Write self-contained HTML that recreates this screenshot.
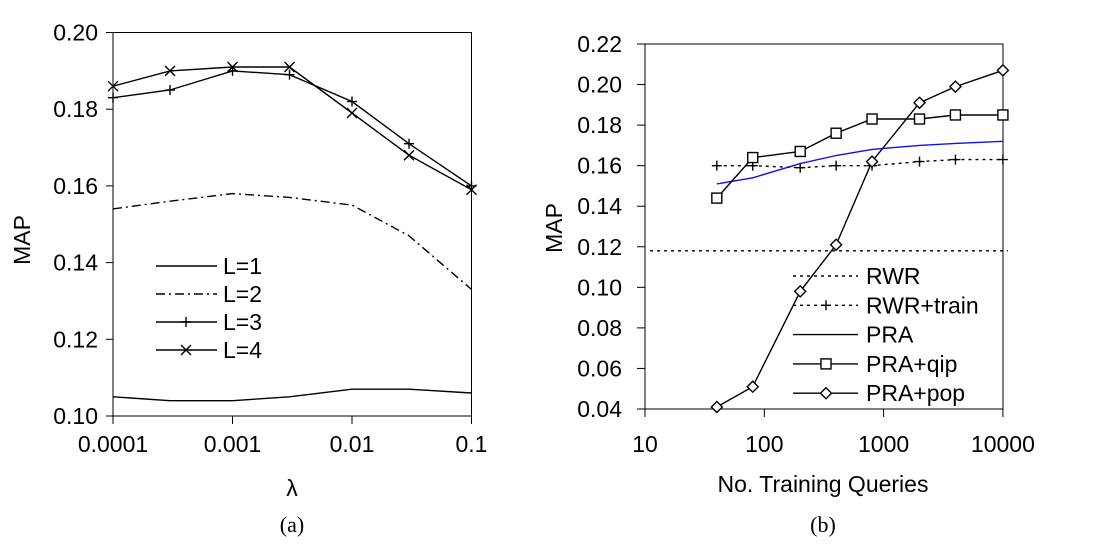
<!DOCTYPE html>
<html><head><meta charset="utf-8"><style>
html,body{margin:0;padding:0;background:#fff;}
svg{display:block;font-family:"Liberation Sans",Arial,sans-serif;}
</style></head><body>
<svg id="s" width="1110" height="554" viewBox="0 0 1110 554"></svg>
<script>
// Panel (a)
const lambdas = [0.0001, 0.0003, 0.001, 0.003, 0.01, 0.03, 0.1];
const aL1 = [0.105, 0.104, 0.104, 0.105, 0.107, 0.107, 0.106];
const aL2 = [0.154, 0.156, 0.158, 0.157, 0.155, 0.147, 0.133];
const aL3 = [0.183, 0.185, 0.190, 0.189, 0.182, 0.171, 0.160];
const aL4 = [0.186, 0.190, 0.191, 0.191, 0.179, 0.168, 0.159];
const aYTicks = [0.10, 0.12, 0.14, 0.16, 0.18, 0.20];
const aXTicks = ["0.0001", "0.001", "0.01", "0.1"];
// Panel (b)
const queries = [40, 80, 200, 400, 800, 2000, 4000, 10000];
const bRWR = 0.118;
const bRWRtrain = [0.160, 0.160, 0.159, 0.160, 0.160, 0.162, 0.163, 0.163];
const bPRA = [0.151, 0.154, 0.161, 0.165, 0.168, 0.170, 0.171, 0.172];
const bQip = [0.144, 0.164, 0.167, 0.176, 0.183, 0.183, 0.185, 0.185];
const bPop = [0.041, 0.051, 0.098, 0.121, 0.162, 0.191, 0.199, 0.207];
const bYTicks = [0.04, 0.06, 0.08, 0.10, 0.12, 0.14, 0.16, 0.18, 0.20, 0.22];
const bXTicks = ["10", "100", "1000", "10000"];

const NS = "http://www.w3.org/2000/svg";
const svg = document.getElementById('s');
function mk(tag, attrs, parent) {
  const e = document.createElementNS(NS, tag);
  for (const k in attrs) e.setAttribute(k, attrs[k]);
  (parent || svg).appendChild(e);
  return e;
}
function txt(x, y, s, anchor, size, name, extra) {
  const t = mk('text', Object.assign({x: x, y: y, 'text-anchor': anchor, 'font-size': size, fill: '#000'}, extra || {}));
  t.textContent = s;
  
  
  return t;
}
const ax = v => 113 + (Math.log10(v) + 4) * 119.5;
const ay = v => 416 - (v - 0.10) / 0.10 * 383.5;
const bx = v => 645 + (Math.log10(v) - 1) * 119.3;
const by = v => 409 - (v - 0.04) / 0.18 * 365;

function polyline(xs, ys, fx, fy, style, name) {
  const pts = xs.map((x, i) => fx(x).toFixed(1) + ',' + fy(ys[i]).toFixed(1)).join(' ');
  const p = mk('polyline', Object.assign({points: pts, fill: 'none', stroke: '#000', 'stroke-width': 1.4}, style));
  
  
  return p;
}
function marker(type, x, y, name) {
  let g = mk('g', {stroke: '#000', 'stroke-width': 1.4, fill: '#fff'});
  
  
  if (type === 'plus') { mk('path', {d: `M${x-5},${y}h10M${x},${y-5}v10`}, g); }
  if (type === 'x') { mk('path', {d: `M${x-5},${y-5}l10,10M${x+5},${y-5}l-10,10`}, g); }
  if (type === 'sq') { mk('rect', {x: x-5, y: y-5, width: 10, height: 10}, g); }
  if (type === 'dia') { mk('path', {d: `M${x},${y-5.5}l5.5,5.5l-5.5,5.5l-5.5,-5.5z`}, g); }
}

// ---------- panel (a) ----------
mk('rect', {x: 113, y: 32.5, width: 358.5, height: 383.5, fill: 'none', stroke: '#000', 'stroke-width': 1});
aYTicks.forEach(v => {
  mk('line', {x1: 106, x2: 113, y1: ay(v), y2: ay(v), stroke: '#000'});
  txt(98, ay(v) + 8, v.toFixed(2), 'end', 23, 'y-tick-a');
});
aXTicks.forEach(s => {
  const x = ax(parseFloat(s));
  mk('line', {x1: x, x2: x, y1: 416, y2: 424, stroke: '#000'});
  txt(x, 452, s, 'middle', 23, 'x-tick-a');
});
txt(292, 496, 'λ', 'middle', 23, 'x-axis-title-a');
txt(30, 240, 'MAP', 'middle', 23, 'y-axis-title-a', {transform: 'rotate(-90 30 240)'});
txt(292, 532, '(a)', 'middle', 22, 'caption-a', {'font-family': '"Liberation Serif",serif'});

polyline(lambdas, aL1, ax, ay, {}, 'line-l1');
polyline(lambdas, aL2, ax, ay, {'stroke-dasharray': '9,4,2,4'}, 'line-l2');
polyline(lambdas, aL3, ax, ay, {}, 'line-l3');
polyline(lambdas, aL4, ax, ay, {}, 'line-l4');
lambdas.forEach((l, i) => marker('plus', ax(l), ay(aL3[i]), 'point-l3'));
lambdas.forEach((l, i) => marker('x', ax(l), ay(aL4[i]), 'point-l4'));

const legA = [['L=1', {}, null], ['L=2', {'stroke-dasharray': '9,4,2,4'}, null], ['L=3', {}, 'plus'], ['L=4', {}, 'x']];
legA.forEach((e, i) => {
  const y = 266 + i * 28;
  const l = mk('line', Object.assign({x1: 156, x2: 217, y1: y, y2: y, stroke: '#000', 'stroke-width': 1.4}, e[1]));
  
  if (e[2]) marker(e[2], 186, y, 'legend-marker-a');
  txt(223, y + 8, e[0], 'start', 23, 'legend-entry-a');
});

// ---------- panel (b) ----------
mk('rect', {x: 645, y: 44, width: 358, height: 365, fill: 'none', stroke: '#000', 'stroke-width': 1});
bYTicks.forEach(v => {
  mk('line', {x1: 637, x2: 645, y1: by(v), y2: by(v), stroke: '#000'});
  txt(622, by(v) + 8, v.toFixed(2), 'end', 23, 'y-tick-b');
});
bXTicks.forEach(s => {
  const x = bx(parseFloat(s));
  mk('line', {x1: x, x2: x, y1: 409, y2: 417, stroke: '#000'});
  txt(x, 452, s, 'middle', 23, 'x-tick-b');
});
txt(823, 492, 'No. Training Queries', 'middle', 23, 'x-axis-title-b');
txt(562, 228, 'MAP', 'middle', 23, 'y-axis-title-b', {transform: 'rotate(-90 562 228)'});
txt(823, 532, '(b)', 'middle', 22, 'caption-b', {'font-family': '"Liberation Serif",serif'});

const rwr = mk('line', {x1: 650, x2: 1008, y1: by(bRWR), y2: by(bRWR), stroke: '#000', 'stroke-width': 1.4, 'stroke-dasharray': '3,4'});

polyline(queries, bRWRtrain, bx, by, {'stroke-dasharray': '3,4'}, 'line-rwr-train');
queries.forEach((q, i) => marker('plus', bx(q), by(bRWRtrain[i]), 'point-rwr-train'));
polyline(queries, bPRA, bx, by, {stroke: '#1010ee'}, 'line-pra');
polyline(queries, bQip, bx, by, {}, 'line-pra-qip');
polyline(queries, bPop, bx, by, {}, 'line-pra-pop');
queries.forEach((q, i) => marker('sq', bx(q), by(bQip[i]), 'point-pra-qip'));
queries.forEach((q, i) => marker('dia', bx(q), by(bPop[i]), 'point-pra-pop'));

const legB = [['RWR', {'stroke-dasharray': '3,4'}, null], ['RWR+train', {'stroke-dasharray': '3,4'}, 'plus'], ['PRA', {}, null], ['PRA+qip', {}, 'sq'], ['PRA+pop', {}, 'dia']];
legB.forEach((e, i) => {
  const y = 276 + i * 29.3;
  const l = mk('line', Object.assign({x1: 793, x2: 858, y1: y, y2: y, stroke: '#000', 'stroke-width': 1.4}, e[1]));
  
  if (e[2]) marker(e[2], 826, y, 'legend-marker-b');
  txt(866, y + 8, e[0], 'start', 23, 'legend-entry-b');
});
</script>
</body></html>
